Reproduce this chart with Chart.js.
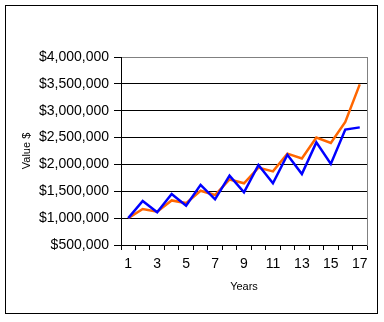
<!DOCTYPE html>
<html>
<head>
<meta charset="utf-8">
<script src="https://cdn.jsdelivr.net/npm/chart.js@4"></script>
<style>
  body { margin: 0; background: #fff; }
  #wrap { position: relative; width: 384px; height: 322px; }
  #frame { position: absolute; left: 5px; top: 5px; width: 371px; height: 307px; border: 1px solid #000; pointer-events: none; }
</style>
</head>
<body>
<div id="wrap">
  <canvas id="valueChart" width="384" height="322"></canvas>
  <div id="frame"></div>
</div>
<script>
// data
const years = ['1','2','3','4','5','6','7','8','9','10','11','12','13','14','15','16','17'];
const blueValues = [1000000, 1320000, 1110000, 1450000, 1230000, 1620000, 1350000, 1790000, 1480000,
  1990000, 1650000, 2180000, 1820000, 2410000, 2010000, 2650000, 2690000];
const orangeValues = [1000000, 1170000, 1120000, 1330000, 1280000, 1510000, 1430000, 1720000, 1650000,
  1940000, 1870000, 2200000, 2110000, 2500000, 2400000, 2790000, 3490000];
const yMin = 500000;
const yMax = 4000000;
const yStep = 500000;

const fontName = '"Liberation Sans", Arial, sans-serif';

const valueChart = new Chart(document.querySelector('#valueChart'), {
  type: 'line',
  data: {
    labels: years,
    datasets: [{
      data: blueValues,
      borderColor: '#0000ff',
      borderWidth: 2.5,
      pointRadius: 0,
      tension: 0
    }, {
      data: orangeValues,
      borderColor: '#ff6600',
      borderWidth: 2.5,
      pointRadius: 0,
      tension: 0
    }]
  },
  options: {
    responsive: false,
    animation: false,
    layout: {
      padding: { top: 57, right: 17, left: 12, bottom: 26 }
    },
    plugins: {
      legend: { display: false },
      tooltip: { enabled: false }
    },
    scales: {
      x: {
        offset: true,
        grid: {
          offset: true,
          drawOnChartArea: false,
          color: '#000',
          tickColor: '#000',
          tickLength: 5
        },
        border: { color: '#000', width: 1 },
        ticks: {
          autoSkip: false,
          maxRotation: 0,
          padding: 6,
          color: '#000',
          font: { family: fontName, size: 14 },
          callback: function(value, index) {
            return index % 2 === 0 ? this.getLabelForValue(value) : '';
          }
        },
        title: {
          display: true,
          text: 'Years',
          color: '#000',
          font: { family: fontName, size: 11 },
          padding: { top: 0, bottom: 2 }
        },
        afterFit: function(scale) { scale.height = 51; }
      },
      y: {
        min: yMin,
        max: yMax,
        grid: {
          color: ctx => ctx.tick && ctx.tick.value === yMax ? '#808080' : '#000',
          tickColor: '#000',
          tickLength: 7
        },
        border: { color: '#000', width: 1 },
        ticks: {
          stepSize: yStep,
          padding: 5,
          color: '#000',
          font: { family: fontName, size: 14 },
          callback: value => '$' + value.toLocaleString('en-US')
        },
        title: {
          display: true,
          text: 'Value $',
          color: '#000',
          font: { family: fontName, size: 11 },
          padding: { top: 8, bottom: 0 }
        },
        afterFit: function(scale) { scale.width = 109; }
      },
      yRight: {
        position: 'right',
        min: yMin,
        max: yMax,
        grid: { drawOnChartArea: false, drawTicks: false },
        border: { color: '#808080', width: 1 },
        ticks: { display: false },
        afterFit: function(scale) { scale.width = 0; }
      }
    }
  }
});
</script>
</body>
</html>
